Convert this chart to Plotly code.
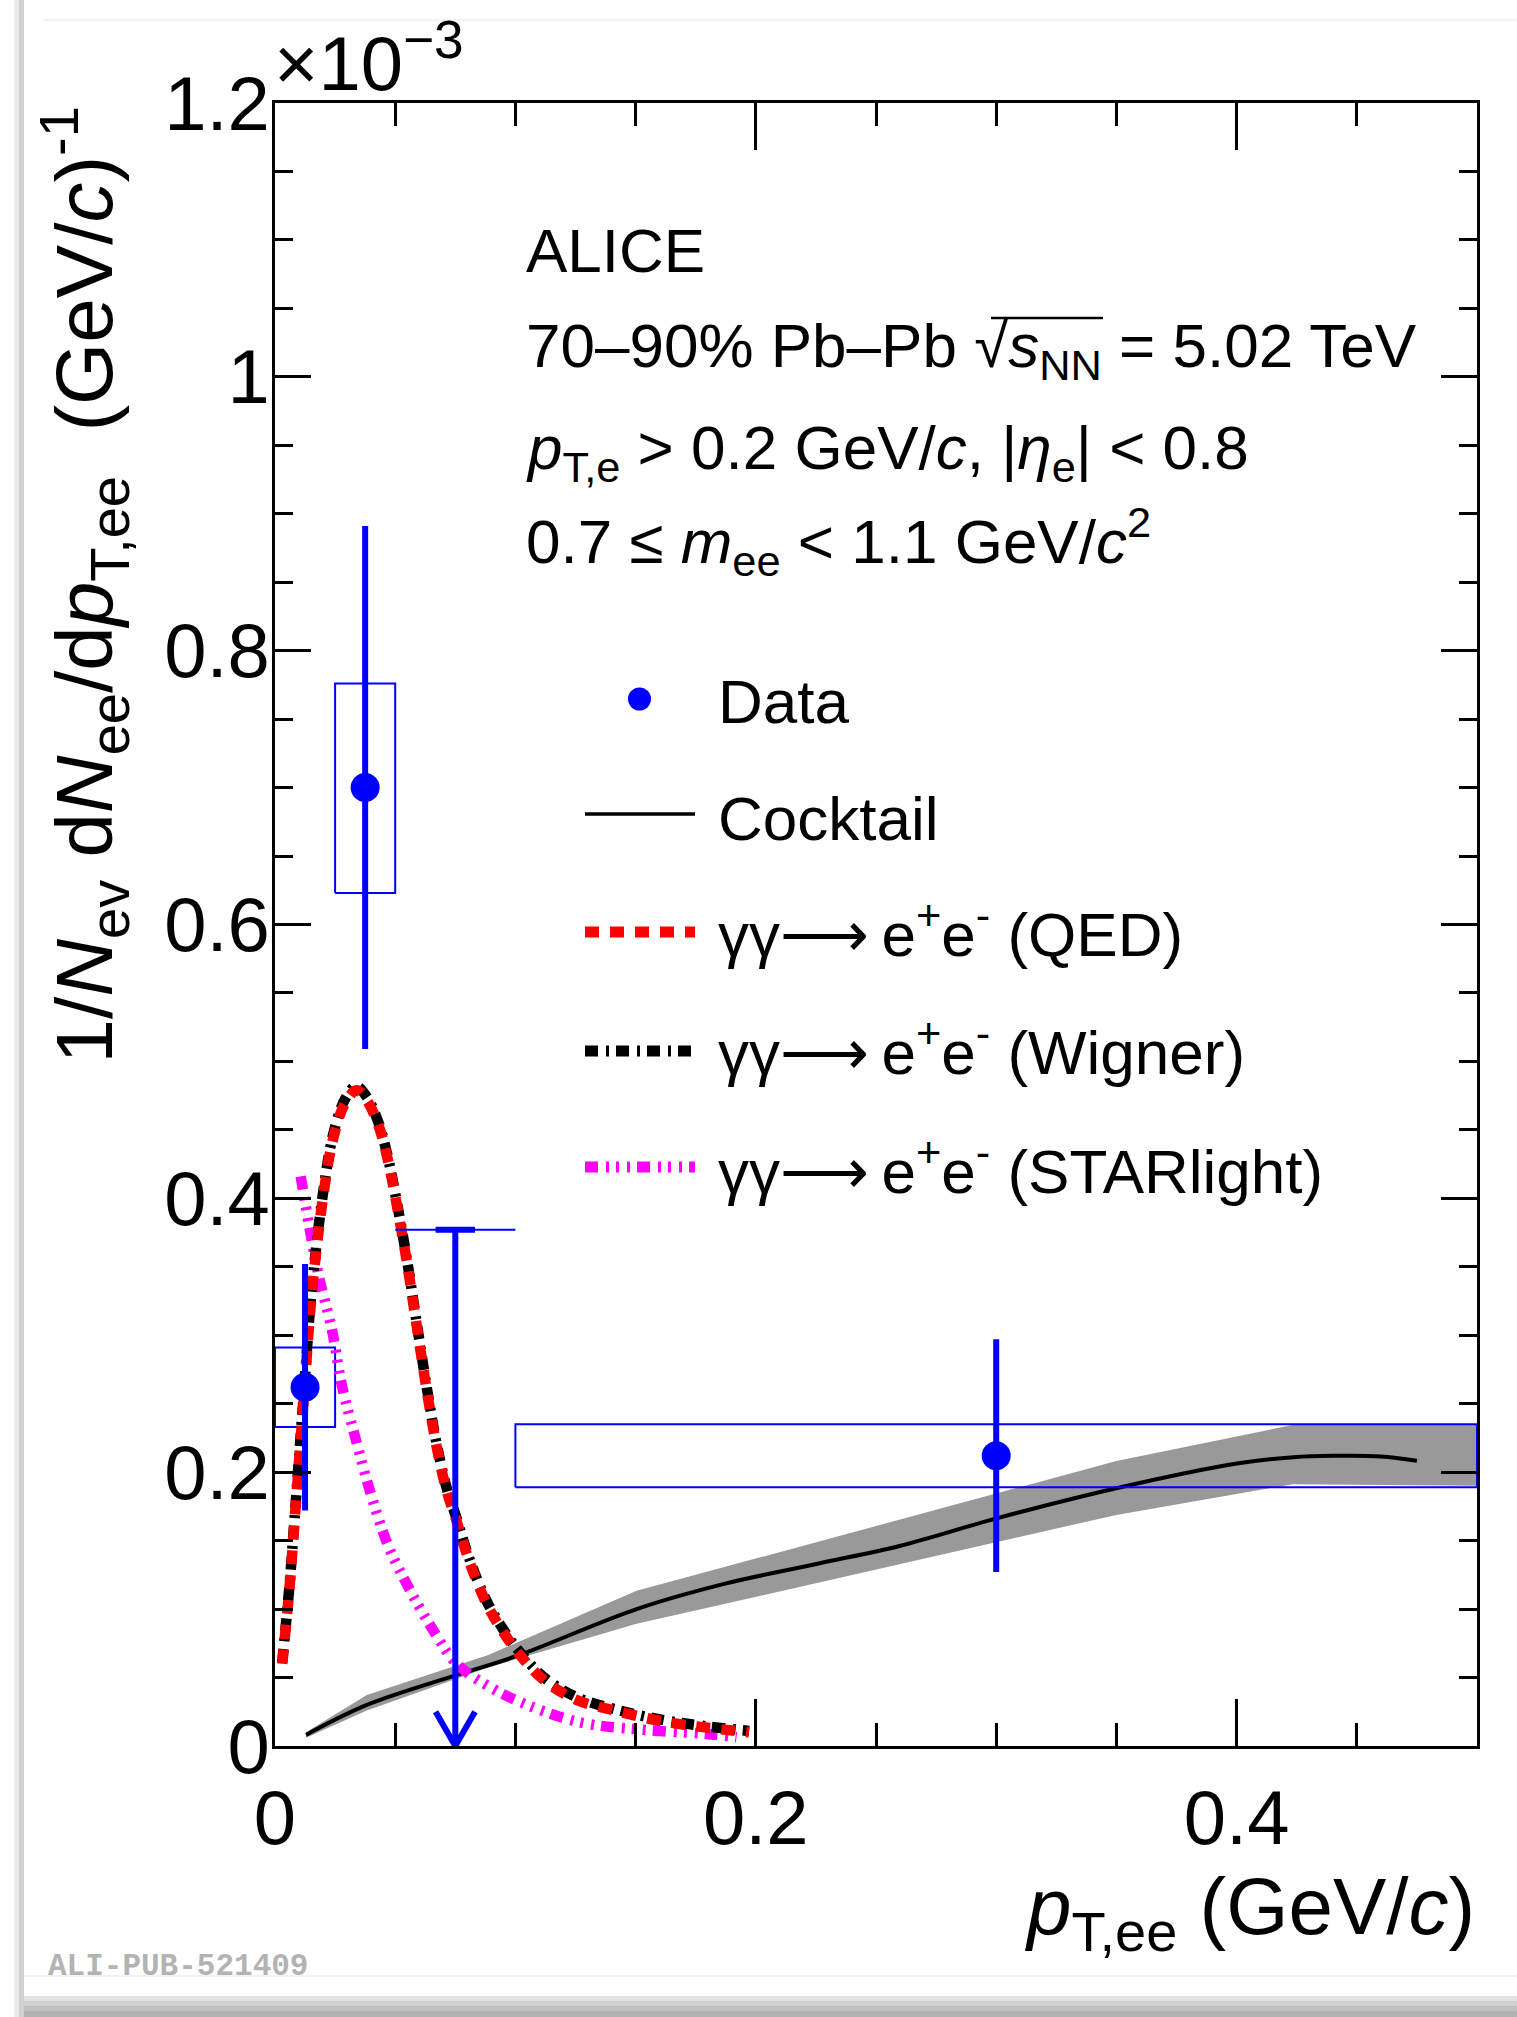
import plotly.graph_objects as go

# ---------------- data (y values in units of 1e-3 (GeV/c)^-1) ----------------
data_pt = [0.0125, 0.0375, 0.300]
data_y = [0.262, 0.700, 0.212]
data_stat = [0.090, 0.191, 0.085]
sys_pt_lo = [0.0, 0.025, 0.10]
sys_pt_hi = [0.025, 0.05, 0.50]
sys_y_lo = [0.233, 0.623, 0.189]
sys_y_hi = [0.291, 0.776, 0.235]

# upper limit bin
ul_pt = [0.075]
ul_y = [0.377]
ul_pt_lo = [0.05]
ul_pt_hi = [0.10]
ul_tip = [0.0]

cocktail_pt = [0.0129, 0.0382, 0.0753, 0.1006, 0.1504, 0.1868, 0.2266, 0.2598,
               0.3002, 0.350, 0.4008, 0.4237, 0.440, 0.460, 0.475]
cocktail_y = [0.0081, 0.0300, 0.0517, 0.0658, 0.1000, 0.1184, 0.1335, 0.1461,
              0.1663, 0.1883, 0.2065, 0.2109, 0.2119, 0.2115, 0.2084]

band_pt = [0.0129, 0.0382, 0.0887, 0.1504, 0.350, 0.4233, 0.500]
band_lo = [0.0060, 0.0260, 0.0574, 0.0892, 0.1688, 0.1912, 0.1900]
band_hi = [0.0100, 0.0372, 0.0665, 0.1133, 0.2082, 0.2345, 0.2345]

qed_pt = [0.0030, 0.0061, 0.0082, 0.0103, 0.0124, 0.0144, 0.0172, 0.0200, 0.0241,
          0.0290, 0.0339, 0.0382, 0.0427, 0.0467, 0.0508, 0.0550, 0.0592, 0.0632,
          0.0672, 0.0713, 0.0752, 0.0810, 0.0880, 0.0950, 0.1021, 0.1120, 0.1250,
          0.1422, 0.1645, 0.1972]
qed_y = [0.060, 0.117, 0.166, 0.215, 0.264, 0.313, 0.362, 0.401, 0.443,
         0.469, 0.479, 0.4715, 0.455, 0.430, 0.394, 0.352, 0.304, 0.259,
         0.219, 0.187, 0.166, 0.134, 0.104, 0.083, 0.066, 0.048, 0.034,
         0.0255, 0.017, 0.010]

wig_pt = [0.0030, 0.0061, 0.0082, 0.0103, 0.0124, 0.0144, 0.0172, 0.0200, 0.0241,
          0.0290, 0.0337, 0.0382, 0.0427, 0.0467, 0.0508, 0.0550, 0.0592, 0.0632,
          0.0672, 0.0713, 0.0752, 0.0810, 0.0880, 0.0950, 0.1021, 0.1120, 0.1250,
          0.1422, 0.1645, 0.1972]
wig_y = [0.061, 0.119, 0.168, 0.218, 0.267, 0.316, 0.365, 0.404, 0.446,
         0.472, 0.482, 0.474, 0.457, 0.432, 0.396, 0.354, 0.306, 0.261,
         0.221, 0.189, 0.168, 0.136, 0.106, 0.085, 0.068, 0.050, 0.036,
         0.0265, 0.018, 0.011]

star_pt = [0.0107, 0.0144, 0.0181, 0.0238, 0.0278, 0.0337, 0.0397, 0.0471, 0.0561,
           0.0665, 0.0755, 0.0902, 0.1066, 0.1274, 0.1512, 0.1794, 0.1920]
star_y = [0.416, 0.378, 0.344, 0.303, 0.2636, 0.2233, 0.1850, 0.1462, 0.1140,
          0.0825, 0.0600, 0.0423, 0.0288, 0.0171, 0.0121, 0.0088, 0.0065]

x_ticks = [0, 0.2, 0.4]
x_ticktext = ["0", "0.2", "0.4"]
y_ticks = [0, 0.2, 0.4, 0.6, 0.8, 1.0, 1.2]
y_ticktext = ["0", "0.2", "0.4", "0.6", "0.8", "1", "1.2"]

# ---------------- style / layout constants ----------------
W, H = 1517, 2017
L, R, T, B = 275, 1477, 103, 1746
FONT = "Liberation Sans, Arial, Helvetica, sans-serif"
BLUE = "#0000ff"
RED = "#ff0000"
MAGENTA = "#ff00ff"
GRAY = "#999999"
QED_DASH = "14px,11px"
WIG_DASH = "13px,8px,3px,7px"
STAR_DASH = "13px,8px,3px,7px,3px,8px,3px,7px"
CURVE_W = 10.5
ARROW_DX = 0.0082
ARROW_DY = 0.025


def px(x):
    return (x - L) / (R - L)


def py(y):
    return (B - y) / (B - T)


fig = go.Figure()

# cocktail uncertainty band
fig.add_trace(go.Scatter(
    x=band_pt + band_pt[::-1], y=band_hi + band_lo[::-1],
    fill="toself", fillcolor=GRAY, line=dict(width=0), mode="lines",
    hoverinfo="skip", showlegend=False))
# cocktail
fig.add_trace(go.Scatter(x=cocktail_pt, y=cocktail_y, mode="lines",
                         line=dict(color="black", width=4, shape="spline"),
                         name="Cocktail", showlegend=False))

# systematic boxes
bx, by = [], []
for xl, xh, yl, yh in zip(sys_pt_lo, sys_pt_hi, sys_y_lo, sys_y_hi):
    bx += [xl, xh, xh, xl, xl, None]
    by += [yl, yl, yh, yh, yl, None]
fig.add_trace(go.Scatter(x=bx, y=by, mode="lines", line=dict(color=BLUE, width=2),
                         hoverinfo="skip", showlegend=False))

# model curves
fig.add_trace(go.Scatter(x=star_pt, y=star_y, mode="lines",
                         line=dict(color=MAGENTA, width=CURVE_W, dash=STAR_DASH, shape="spline"),
                         name="STARlight", showlegend=False))
fig.add_trace(go.Scatter(x=wig_pt, y=wig_y, mode="lines",
                         line=dict(color="black", width=CURVE_W, dash=WIG_DASH, shape="spline"),
                         name="Wigner", showlegend=False))
fig.add_trace(go.Scatter(x=qed_pt, y=qed_y, mode="lines",
                         line=dict(color=RED, width=CURVE_W, dash=QED_DASH, shape="spline"),
                         name="QED", showlegend=False))

# upper limit
fig.add_trace(go.Scatter(
    x=[ul_pt_lo[0], ul_pt_hi[0]], y=[ul_y[0], ul_y[0]], mode="lines",
    line=dict(color=BLUE, width=2), hoverinfo="skip", showlegend=False))
fig.add_trace(go.Scatter(
    x=[ul_pt[0] - ARROW_DX, ul_pt[0] + ARROW_DX], y=[ul_y[0], ul_y[0]], mode="lines",
    line=dict(color=BLUE, width=6), hoverinfo="skip", showlegend=False))
fig.add_trace(go.Scatter(
    x=[ul_pt[0], ul_pt[0], None, ul_pt[0] - ARROW_DX, ul_pt[0], ul_pt[0] + ARROW_DX],
    y=[ul_y[0], ul_tip[0], None, ul_tip[0] + ARROW_DY, ul_tip[0], ul_tip[0] + ARROW_DY],
    mode="lines", line=dict(color=BLUE, width=6), cliponaxis=False,
    hoverinfo="skip", showlegend=False))

# data points
fig.add_trace(go.Scatter(
    x=data_pt, y=data_y, mode="markers",
    marker=dict(color=BLUE, size=29, symbol="circle"),
    error_y=dict(type="data", array=data_stat, color=BLUE, thickness=6, width=0),
    name="Data", showlegend=False))

axis_common = dict(showline=True, linewidth=3, linecolor="black", mirror="ticks",
                   showgrid=False, zeroline=False, ticks="inside", tickwidth=2.5,
                   tickcolor="black",
                   tickfont=dict(size=76, family=FONT, color="black"))

fig.update_layout(
    width=W, height=H,
    margin=dict(l=L, r=W - R, t=T, b=H - B),
    paper_bgcolor="white", plot_bgcolor="white",
    showlegend=False,
    xaxis=dict(range=[0, 0.5], tickvals=x_ticks, ticktext=x_ticktext,
               ticklen=47, ticklabelstandoff=4,
               minor=dict(dtick=0.05, tick0=0, ticklen=23, tickwidth=2.5,
                          ticks="inside", tickcolor="black", showgrid=False),
               **axis_common),
    yaxis=dict(range=[0, 1.2], tickvals=y_ticks, ticktext=y_ticktext,
               ticklen=36, ticklabelstandoff=-13,
               minor=dict(dtick=0.05, tick0=0, ticklen=18, tickwidth=2.5,
                          ticks="inside", tickcolor="black", showgrid=False),
               **axis_common),
)

ann = []


def text(x, y, s, size=62, xanchor="left", yanchor="middle", angle=0, color="black", family=FONT):
    ann.append(dict(x=px(x), y=py(y), xref="paper", yref="paper", text=s,
                    showarrow=False, xanchor=xanchor, yanchor=yanchor, textangle=angle,
                    font=dict(size=size, family=family, color=color)))


# exponent
text(272, 58, "×10<sup>−3</sup>", size=76, yanchor="middle")

# info text
text(524, 250, "ALICE")
text(524, 350, "70–90% Pb–Pb √<i>s</i><sub>NN</sub> = 5.02 TeV")
text(524, 452, "<i>p</i><sub>T,e</sub> &gt; 0.2 GeV/<i>c</i>, |<i>η</i><sub>e</sub>| &lt; 0.8")
text(524, 541, "0.7 ≤ <i>m</i><sub>ee</sub> &lt; 1.1 GeV/<i>c</i><sup>2</sup>")

# legend
leg_text_x = 716
leg_rows = [701, 818, 930, 1048, 1167]
leg_labels = ["Data", "Cocktail",
              "γγ⟶\u2009e<sup>+</sup>e<sup>-</sup> (QED)",
              "γγ⟶\u2009e<sup>+</sup>e<sup>-</sup> (Wigner)",
              "γγ⟶\u2009e<sup>+</sup>e<sup>-</sup> (STARlight)"]
for yy, lab in zip(leg_rows, leg_labels):
    text(leg_text_x, yy, lab)

# axis titles
text(R, 1912, "<i>p</i><sub>T,ee</sub> (GeV/<i>c</i>)", size=80, xanchor="right")
text(84, T + 2, "1/<i>N</i><sub>ev</sub> d<i>N</i><sub>ee</sub>/d<i>p</i><sub>T,ee</sub>  (GeV/<i>c</i>)<sup>-1</sup>",
     size=80, xanchor="center", yanchor="top", angle=-90)

# watermark
text(46, 1966, "<b>ALI-PUB-521409</b>", size=31, color="#b3b3b3",
     family="Liberation Mono, Courier New, monospace")

shapes = []
# overline of the square root in the energy label
shapes.append(dict(type="line", xref="paper", yref="paper",
                   x0=px(991), x1=px(1103), y0=py(318), y1=py(318),
                   line=dict(color="black", width=2.5)))
# legend samples
lx0, lx1 = 585, 695
shapes.append(dict(type="circle", xref="paper", yref="paper",
                   x0=px(639.5 - 11.5), x1=px(639.5 + 11.5), y0=py(699 + 11.5), y1=py(699 - 11.5),
                   fillcolor=BLUE, line=dict(width=0)))
for yy, col, dash, w in [(814, "black", "solid", 3.5), (932, RED, QED_DASH, 11),
                         (1051, "black", WIG_DASH, 11), (1167, MAGENTA, STAR_DASH, 11)]:
    shapes.append(dict(type="line", xref="paper", yref="paper",
                       x0=px(lx0), x1=px(lx1), y0=py(yy), y1=py(yy),
                       line=dict(color=col, width=w, dash=dash)))

# page frame decorations (drop shadow look)
shapes.append(dict(type="rect", xref="paper", yref="paper", x0=px(14), x1=px(19),
                   y0=py(2017), y1=py(0), fillcolor="#ebebeb", line=dict(width=0), layer="below"))
shapes.append(dict(type="rect", xref="paper", yref="paper", x0=px(19), x1=px(24),
                   y0=py(2017), y1=py(0), fillcolor="#d2d2d2", line=dict(width=0), layer="below"))
for y0, y1, c in [(1996, 2001, "#e2e2e2"), (2001, 2006, "#d0d0d0"),
                  (2006, 2011, "#c0c0c0"), (2011, 2017, "#b2b2b2")]:
    shapes.append(dict(type="rect", xref="paper", yref="paper", x0=px(24), x1=px(1517),
                       y0=py(y1), y1=py(y0), fillcolor=c, line=dict(width=0), layer="below"))
shapes.append(dict(type="line", xref="paper", yref="paper", x0=px(24), x1=px(1517),
                   y0=py(1976), y1=py(1976), line=dict(color="#eeeeee", width=1.5)))
shapes.append(dict(type="line", xref="paper", yref="paper", x0=px(44), x1=px(1517),
                   y0=py(20), y1=py(20), line=dict(color="#eeeeee", width=1.5)))

fig.update_layout(annotations=ann, shapes=shapes)

fig.write_html("out.html")
